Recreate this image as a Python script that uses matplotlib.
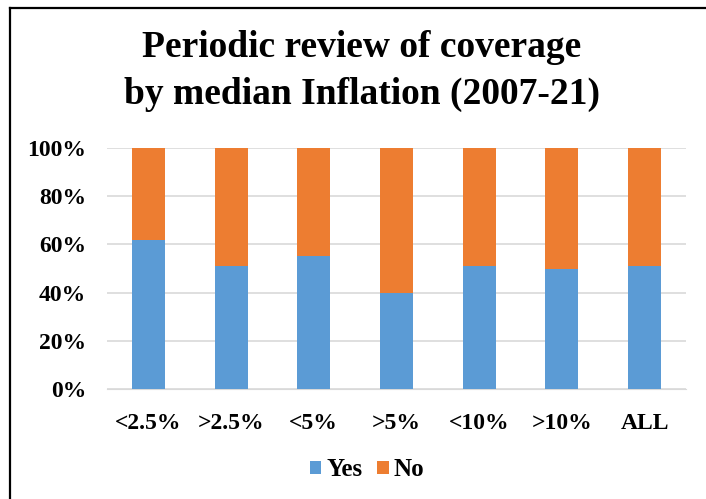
import matplotlib.pyplot as plt
from matplotlib.lines import Line2D
from matplotlib.ticker import PercentFormatter

categories = ["<2.5%", ">2.5%", "<5%", ">5%", "<10%", ">10%", "ALL"]
yes = [62, 51, 55, 40, 51, 50, 51]
no = [100 - v for v in yes]

plt.rcParams['font.family'] = ['Liberation Serif', 'DejaVu Serif']
plt.rcParams['font.weight'] = 'bold'

W, H = 706, 499
fig = plt.figure(figsize=(W / 100, H / 100), dpi=100)
ax = fig.add_axes([107 / W, 1 - 389 / H, 579 / W, 241 / H])

x = range(len(categories))
ax.bar(x, yes, width=0.4, color='#5b9bd5', label='Yes', zorder=3)
ax.bar(x, no, width=0.4, bottom=yes, color='#ed7d31', label='No', zorder=3)

ax.set_xlim(-0.5, len(categories) - 0.5)
ax.set_ylim(0, 100)
ax.set_yticks(range(0, 101, 20))
ax.yaxis.set_major_formatter(PercentFormatter(decimals=0))
ax.set_xticks(list(x))
ax.set_xticklabels(categories)
ax.grid(axis='y', color='#d9d9d9', linewidth=1.2, zorder=0)
for s in ['top', 'right', 'left']:
    ax.spines[s].set_visible(False)
ax.spines['bottom'].set_color('#d9d9d9')
ax.tick_params(axis='both', length=0, labelsize=17)
ax.tick_params(axis='y', pad=15)
ax.tick_params(axis='x', pad=17)
for lbl in ax.get_xticklabels() + ax.get_yticklabels():
    lbl.set_fontweight('bold')

fig.text(362 / W, 1 - 71 / H, "Periodic review of coverage\nby median Inflation (2007-21)",
         ha='center', va='center', fontsize=27, fontweight='bold', linespacing=1.45)

fig.legend(loc='center', bbox_to_anchor=(367 / W, 1 - 470 / H), ncol=2, frameon=False,
           prop={'size': 18, 'weight': 'bold'}, handlelength=0.45, handleheight=0.45,
           handletextpad=0.2, columnspacing=0.6)

# outer frame: left and top edges
fig.add_artist(Line2D([10 / W, 10 / W], [0, 1 - 7.5 / H], transform=fig.transFigure,
                      color='black', linewidth=1.6, solid_capstyle='projecting'))
fig.add_artist(Line2D([10 / W, 1], [1 - 7.5 / H, 1 - 7.5 / H], transform=fig.transFigure,
                      color='black', linewidth=1.6, solid_capstyle='projecting'))

fig.savefig('out.png', dpi=100)
